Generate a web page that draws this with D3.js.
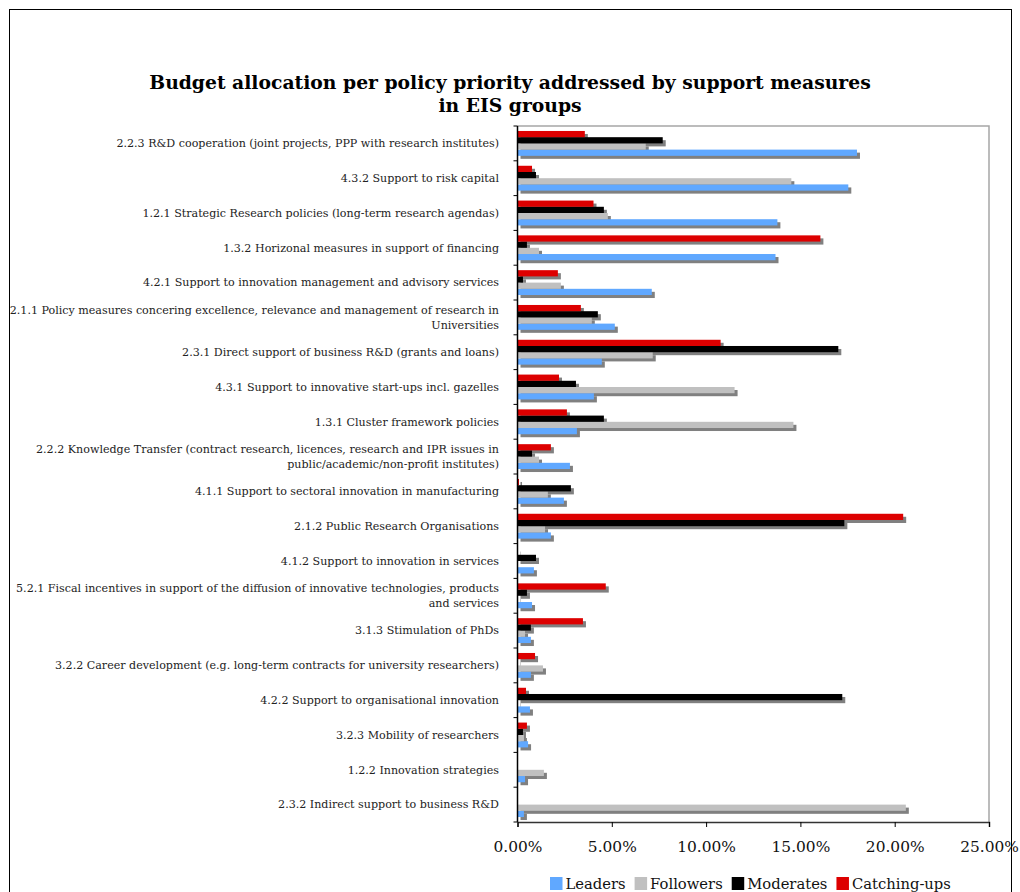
<!DOCTYPE html>
<html>
<head>
<meta charset="utf-8">
<script src="https://cdn.jsdelivr.net/npm/d3@7/dist/d3.min.js"></script>
<style>
  html, body { margin: 0; padding: 0; background: #fff; }
  svg { display: block; }
</style>
</head>
<body>
<svg id="chart" width="1020" height="892"></svg>
<script>
// Policy priorities, top to bottom ("\n" marks a wrapped label line)
const categories = [
  "2.2.3 R&D cooperation (joint projects, PPP with research institutes)",
  "4.3.2 Support to risk capital",
  "1.2.1 Strategic Research policies (long-term research agendas)",
  "1.3.2 Horizonal measures in support of financing",
  "4.2.1 Support to innovation management and advisory services",
  "2.1.1 Policy measures concering excellence, relevance and management of research in\nUniversities",
  "2.3.1 Direct support of business R&D (grants and loans)",
  "4.3.1 Support to innovative start-ups incl. gazelles",
  "1.3.1 Cluster framework policies",
  "2.2.2 Knowledge Transfer (contract research, licences, research and IPR issues in\npublic/academic/non-profit institutes)",
  "4.1.1 Support to sectoral innovation in manufacturing",
  "2.1.2 Public Research Organisations",
  "4.1.2 Support to innovation in services",
  "5.2.1 Fiscal incentives in support of the diffusion of innovative technologies, products\nand services",
  "3.1.3 Stimulation of PhDs",
  "3.2.2 Career development (e.g. long-term contracts for university researchers)",
  "4.2.2 Support to organisational innovation",
  "3.2.3 Mobility of researchers",
  "1.2.2 Innovation strategies",
  "2.3.2 Indirect support to business R&D"
];

// Budget share (%) per EIS group
const leaders    = [18.00, 17.54, 13.78, 13.68, 7.12, 5.16, 4.47, 4.05, 3.15, 2.78, 2.46, 1.77, 0.87, 0.77, 0.71, 0.71, 0.66, 0.56, 0.40, 0.34];
const followers  = [6.80, 14.52, 4.79, 1.14, 2.30, 3.94, 7.17, 11.51, 14.63, 1.14, 1.61, 1.46, 0.00, 0.02, 0.40, 1.35, 0.02, 0.34, 1.40, 20.59];
const moderates  = [7.70, 0.98, 4.58, 0.50, 0.29, 4.26, 17.01, 3.10, 4.58, 0.77, 2.83, 17.33, 0.98, 0.50, 0.71, 0.02, 17.22, 0.29, 0.00, 0.00];
const catchingUp = [3.57, 0.77, 4.03, 16.06, 2.14, 3.36, 10.77, 2.20, 2.62, 1.77, 0.08, 20.45, 0.02, 4.68, 3.47, 0.93, 0.45, 0.50, 0.00, 0.00];

const seriesNames  = ["Leaders", "Followers", "Moderates", "Catching-ups"];
const seriesColors = ["#60a8ff", "#c0c0c0", "#000000", "#dd0000"];
const xTicks = [0, 5, 10, 15, 20, 25];

const titleLines = [
  "Budget allocation per policy priority addressed by support measures",
  "in EIS groups"
];

const series = [
  { name: seriesNames[0], color: seriesColors[0], values: leaders },
  { name: seriesNames[1], color: seriesColors[1], values: followers },
  { name: seriesNames[2], color: seriesColors[2], values: moderates },
  { name: seriesNames[3], color: seriesColors[3], values: catchingUp }
];

const FONT = "'DejaVu Serif', 'Liberation Serif', serif";
const svg = d3.select("#chart");

// size a font so that a sample string spans the given width
function fitSize(text, width, weight) {
  const t = svg.append("text")
    .attr("font-family", FONT).attr("font-weight", weight || "normal")
    .attr("font-size", 100).text(text);
  const w = t.node().getComputedTextLength();
  t.remove();
  return 100 * width / w;
}

// outer frame
svg.append("rect")
  .attr("x", 9.5).attr("y", 9.5).attr("width", 1002).attr("height", 900)
  .attr("fill", "#fff").attr("stroke", "#000").attr("stroke-width", 1);

// title
const titleSize = fitSize(titleLines[0], 722, "bold");
svg.append("g").selectAll("text").data(titleLines).join("text")
  .attr("x", 510).attr("y", (d, i) => 89 + i * 23)
  .attr("text-anchor", "middle")
  .attr("font-family", FONT).attr("font-weight", "bold")
  .attr("font-size", titleSize).attr("fill", "#000")
  .text(d => d);

// scales
const plotLeft = 517.5, plotRight = 989, plotTop = 126, plotBottom = 822;
const x = d3.scaleLinear().domain([0, 25]).range([plotLeft, plotRight]);
const y0 = d3.scaleBand().domain(categories).range([plotTop, plotBottom]);
const barOrder = ["Catching-ups", "Moderates", "Followers", "Leaders"];
const y1 = d3.scaleBand().domain(barOrder).range([0, y0.bandwidth()]).paddingOuter(0.8);

// plot area border (top / right)
svg.append("path")
  .attr("d", `M${plotLeft},${plotTop}H${plotRight}V${plotBottom}`)
  .attr("fill", "none").attr("stroke", "#a6a6a6").attr("stroke-width", 1.5);

// flatten bar records
const bars = [];
series.forEach(s => {
  s.values.forEach((v, i) => {
    if (v > 0) bars.push({ cat: categories[i], series: s.name, color: s.color, value: v });
  });
});

const SH = 3; // drop-shadow offset
const g = svg.append("g");
g.selectAll("rect.shadow").data(bars).join("rect")
  .attr("class", "shadow")
  .attr("x", x(0) + SH)
  .attr("y", d => y0(d.cat) + y1(d.series) + SH)
  .attr("width", d => x(d.value) - x(0))
  .attr("height", y1.bandwidth())
  .attr("fill", "#808080");
g.selectAll("rect.bar").data(bars).join("rect")
  .attr("class", "bar")
  .attr("x", x(0))
  .attr("y", d => y0(d.cat) + y1(d.series))
  .attr("width", d => x(d.value) - x(0))
  .attr("height", y1.bandwidth())
  .attr("fill", d => d.color);

// y axis: line + boundary ticks
const yAxisG = svg.append("g");
yAxisG.append("line")
  .attr("x1", plotLeft).attr("x2", plotLeft)
  .attr("y1", plotTop).attr("y2", plotBottom)
  .attr("stroke", "#000").attr("stroke-width", 1.5);
const boundaries = categories.map(c => y0(c)).concat([plotBottom]);
yAxisG.selectAll("line.tk").data(boundaries).join("line")
  .attr("class", "tk")
  .attr("x1", plotLeft - 4).attr("x2", plotLeft)
  .attr("y1", d => d).attr("y2", d => d)
  .attr("stroke", "#000").attr("stroke-width", 1);

// category labels
const labelSize = fitSize(categories[0], 383);
const labels = svg.append("g")
  .attr("font-family", FONT).attr("font-size", labelSize).attr("fill", "#222");
categories.forEach(c => {
  const lines = c.split("\n");
  const cy = y0(c) + y0.bandwidth() / 2;
  const lh = 15.5;
  lines.forEach((ln, i) => {
    labels.append("text")
      .attr("x", 499)
      .attr("y", cy + (i - (lines.length - 1) / 2) * lh)
      .attr("dy", "0.35em")
      .attr("text-anchor", "end")
      .text(ln);
  });
});

// x axis
const tickSize = fitSize("0.00%", 49);
const xAxis = d3.axisBottom(x).tickValues(xTicks).tickSize(5)
  .tickFormat(d => d3.format(".2f")(d) + "%");
const xg = svg.append("g").attr("transform", `translate(0,${plotBottom})`).call(xAxis);
xg.select(".domain").attr("stroke", "#333").attr("stroke-width", 1.5);
xg.selectAll(".tick line").attr("stroke", "#000");
xg.selectAll(".tick text")
  .attr("font-family", FONT).attr("font-size", tickSize).attr("fill", "#111")
  .attr("y", 19).attr("dy", "0.71em");

// legend: squares + names, sized so the row spans 550..953
const legSize = fitSize(seriesNames.join(""), 312);
const leg = svg.append("g").attr("font-family", FONT).attr("font-size", legSize).attr("fill", "#111");
let lx = 550;
series.forEach(s => {
  leg.append("rect").attr("x", lx).attr("y", 877).attr("width", 12.5).attr("height", 13).attr("fill", s.color);
  const t = leg.append("text").attr("x", lx + 15.5).attr("y", 889).text(s.name);
  lx += 15.5 + t.node().getComputedTextLength() + 9;
});
</script>
</body>
</html>
